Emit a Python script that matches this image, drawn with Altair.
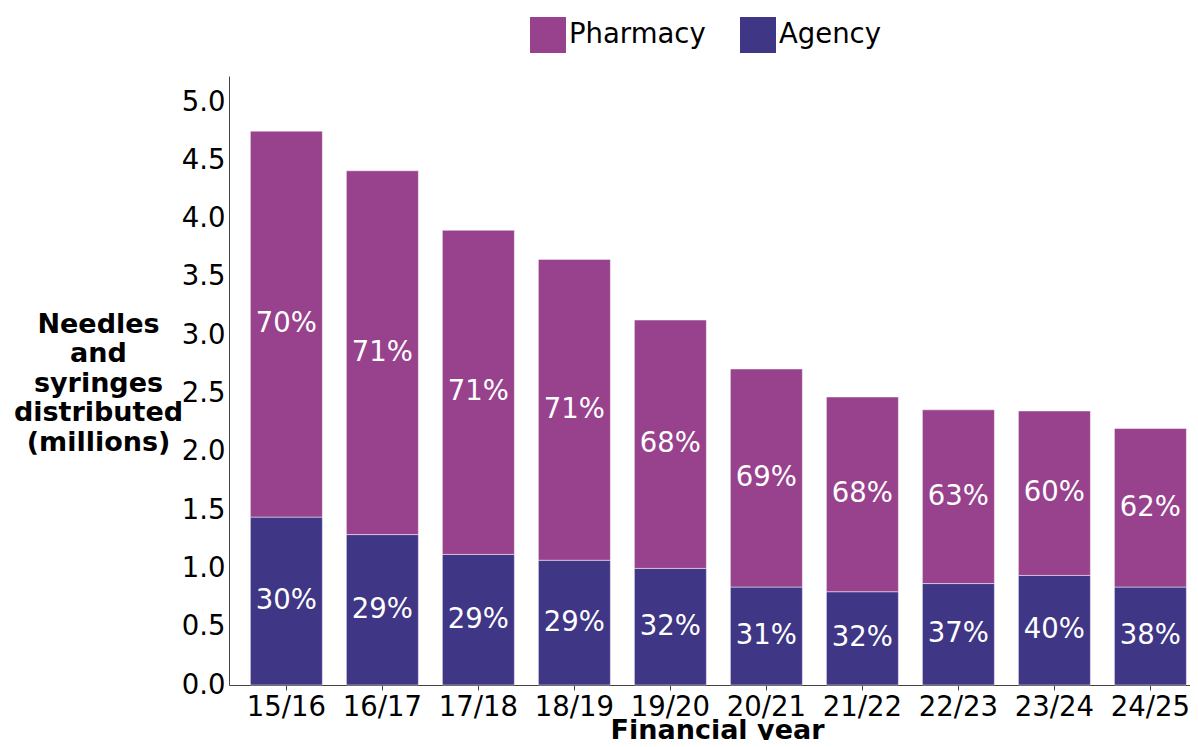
import altair as alt
import pandas as pd

years = ["15/16", "16/17", "17/18", "18/19", "19/20", "20/21", "21/22", "22/23", "23/24", "24/25"]
totals = [4.75, 4.41, 3.90, 3.65, 3.13, 2.71, 2.47, 2.36, 2.35, 2.20]
agency = [1.44, 1.29, 1.12, 1.07, 1.00, 0.84, 0.80, 0.87, 0.94, 0.84]
agency_pct = ["30%", "29%", "29%", "29%", "32%", "31%", "32%", "37%", "40%", "38%"]
pharmacy_pct = ["70%", "71%", "71%", "71%", "68%", "69%", "68%", "63%", "60%", "62%"]
series = ["Pharmacy", "Agency"]
colors = ["#98418D", "#3F3685"]

rows = []
for i, yr in enumerate(years):
    a = agency[i]
    p = round(totals[i] - a, 3)
    rows.append(dict(year=yr, type="Agency", value=a, mid=a / 2, label=agency_pct[i], ord=0))
    rows.append(dict(year=yr, type="Pharmacy", value=p, mid=a + p / 2, label=pharmacy_pct[i], ord=1))
df = pd.DataFrame(rows)

FONT = "DejaVu Sans"
FS = 27.5

xenc = alt.X(
    "year:N",
    sort=years,
    scale=alt.Scale(paddingInner=0.25, paddingOuter=0.13, align=0.856),
    axis=alt.Axis(
        title="Financial year",
        labelAngle=0,
        labelFontSize=FS,
        labelColor="black",
        labelPadding=3,
        ticks=True,
        tickSize=5,
        tickColor="#444",
        domainColor="#444",
        titleFontSize=27,
        titleFontWeight="bold",
        titleColor="black",
        titleBaseline="alphabetic",
        titleX=488,
        titleY=53,
    ),
)

yscale = alt.Scale(domain=[0, 5.223], nice=False, zero=True)

bars = alt.Chart(df).mark_bar(stroke="white", strokeWidth=0.8, strokeOpacity=0.6).encode(
    x=xenc,
    y=alt.Y(
        "value:Q",
        stack="zero",
        scale=yscale,
        axis=alt.Axis(
            title=["Needles", "and", "syringes", "distributed", "(millions)"],
            values=[0, 0.5, 1.0, 1.5, 2.0, 2.5, 3.0, 3.5, 4.0, 4.5, 5.0],
            format=".1f",
            grid=False,
            ticks=False,
            labelFontSize=FS,
            labelColor="black",
            labelPadding=4,
            domainColor="#444",
            titleAngle=0,
            titleAlign="center",
            titleBaseline="alphabetic",
            titleX=-131,
            titleY=256,
            titleFontSize=27,
            titleFontWeight="bold",
            titleColor="black",
            titleLineHeight=29.5,
        ),
    ),
    color=alt.Color(
        "type:N",
        scale=alt.Scale(domain=series, range=colors),
        legend=alt.Legend(
            title=None,
            orient="none",
            direction="horizontal",
            legendX=301,
            legendY=-59,
            symbolType="square",
            symbolSize=1296,
            symbolStrokeWidth=0,
            symbolOpacity=1,
            labelFontSize=FS,
            labelColor="black",
            labelOffset=3,
            columnPadding=34,
            padding=0,
        ),
    ),
    order=alt.Order("ord:Q"),
)

labels = alt.Chart(df).mark_text(color="white", fontSize=FS, baseline="middle", align="center").encode(
    x=alt.X("year:N", sort=years),
    y=alt.Y("mid:Q", scale=yscale),
    text="label:N",
)

chart = (
    alt.layer(bars, labels)
    .properties(
        width=961,
        height=609,
        autosize=alt.AutoSizeParams(type="none"),
        padding={"left": 221, "top": 68, "right": 0, "bottom": 55},
    )
    .configure(font=FONT)
    .configure_view(stroke=None)
)

chart.save("out.html", embed_options={"renderer": "svg", "actions": False})
